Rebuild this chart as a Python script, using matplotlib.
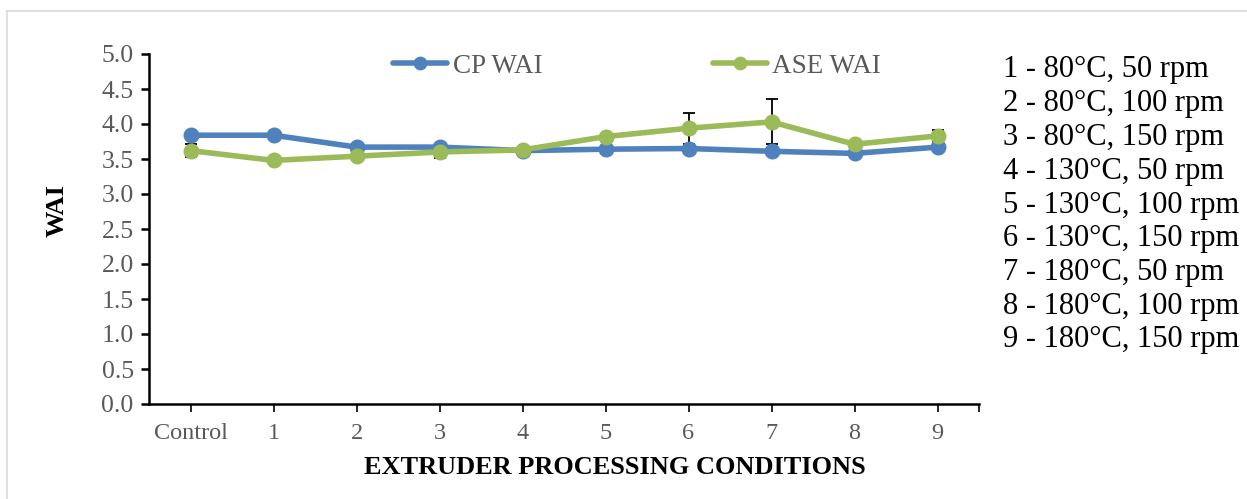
import matplotlib
matplotlib.use("Agg")
import matplotlib.pyplot as plt
from matplotlib.lines import Line2D

categories = ["Control", "1", "2", "3", "4", "5", "6", "7", "8", "9"]
cp_wai = [3.84, 3.84, 3.67, 3.67, 3.62, 3.64, 3.65, 3.61, 3.58, 3.67]
ase_wai = [3.62, 3.48, 3.54, 3.60, 3.63, 3.82, 3.94, 4.03, 3.71, 3.83]
cp_err = [0.02, 0.02, 0.02, 0.02, 0.02, 0.02, 0.02, 0.02, 0.03, 0.02]
ase_err = [0.09, 0.02, 0.02, 0.09, 0.02, 0.03, 0.22, 0.32, 0.03, 0.08]
conditions = ["1 - 80°C, 50 rpm", "2 - 80°C, 100 rpm", "3 - 80°C, 150 rpm",
              "4 - 130°C, 50 rpm", "5 - 130°C, 100 rpm", "6 - 130°C, 150 rpm",
              "7 - 180°C, 50 rpm", "8 - 180°C, 100 rpm", "9 - 180°C, 150 rpm"]
yticks = [0.0, 0.5, 1.0, 1.5, 2.0, 2.5, 3.0, 3.5, 4.0, 4.5, 5.0]

plt.rcParams['font.family'] = ['Liberation Serif', 'DejaVu Serif']

W, H = 1247, 499
fig = plt.figure(figsize=(W / 100, H / 100), dpi=100)
ax = fig.add_axes([149 / W, (H - 404) / H, (979 - 149) / W, (404 - 54) / H])

x = list(range(len(categories)))
blue = "#4F81BD"
green = "#9BBB59"

ax.errorbar(x, cp_wai, yerr=cp_err, fmt="none", ecolor="black", elinewidth=1.3,
            capsize=4, capthick=1.3, zorder=2)
ax.errorbar(x, ase_wai, yerr=ase_err, fmt="none", ecolor="black", elinewidth=1.3,
            capsize=4, capthick=1.3, zorder=2)
ax.plot(x, cp_wai, color=blue, lw=4, marker="o", ms=10.5, label="CP WAI",
        solid_capstyle="round", zorder=3)
ax.plot(x, ase_wai, color=green, lw=4, marker="o", ms=10.5, label="ASE WAI",
        solid_capstyle="round", zorder=4)

ax.set_xlim(-0.5, len(categories) - 0.5)
ax.set_ylim(0, 5.0)
ax.set_yticks(yticks)
ax.set_yticklabels([f"{v:.1f}" for v in yticks])
ax.set_xticks(x)
ax.set_xticklabels(categories)
ax.set_xticks([len(categories) - 0.5], minor=True)

for s in ["top", "right"]:
    ax.spines[s].set_visible(False)
for s in ["left", "bottom"]:
    ax.spines[s].set_linewidth(1.8)
    ax.spines[s].set_color("black")

ax.tick_params(axis="y", which="major", direction="out", length=6, width=1.8,
               labelsize=18.5, labelcolor="#595959", pad=5)
ax.tick_params(axis="x", which="both", direction="out", length=6, width=1.2,
               labelsize=17.5, labelcolor="#595959", pad=8)

ax.set_ylabel("WAI", fontsize=19, fontweight="bold")
ax.yaxis.set_label_coords(-0.111, 0.554)
ax.yaxis.label.set_va("center")
ax.set_xlabel("EXTRUDER PROCESSING CONDITIONS", fontsize=19, fontweight="bold")
ax.xaxis.set_label_coords(0.561, -0.18)
ax.xaxis.label.set_va("center")

leg = ax.legend(loc="center", bbox_to_anchor=(0.588, 0.965), ncol=2, frameon=False,
                fontsize=19.5, handlelength=2.0, handletextpad=0.2, columnspacing=6.3,
                labelcolor="#595959", markerscale=0.85)

y0 = 70
step = (340 - 70) / 8
for i, t in enumerate(conditions):
    fig.text(1003 / W, 1 - (y0 + i * step) / H, t, fontsize=22, color="black",
             ha="left", va="center")

# light gray outer border (top and left)
fig.add_artist(Line2D([7 / W, 1], [1 - 11 / H, 1 - 11 / H], transform=fig.transFigure,
                      color="#D9D9D9", lw=1.2))
fig.add_artist(Line2D([7 / W, 7 / W], [0, 1 - 11 / H], transform=fig.transFigure,
                      color="#D9D9D9", lw=1.2))

fig.savefig("out.png", dpi=100)
